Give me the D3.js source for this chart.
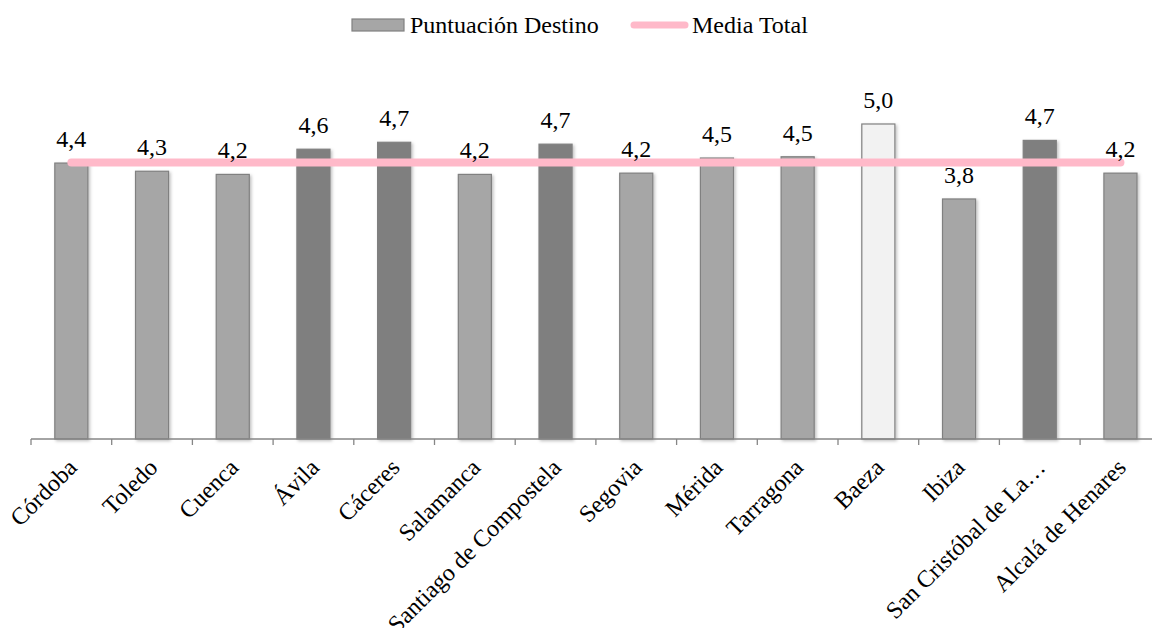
<!DOCTYPE html>
<html><head><meta charset="utf-8">
<script src="https://cdnjs.cloudflare.com/ajax/libs/d3/7.8.5/d3.min.js"></script>
<style>body{margin:0;background:#fff}svg{display:block}</style>
</head><body><svg id="c" width="1152" height="628"></svg>
<script>
const categories = ["Córdoba","Toledo","Cuenca","Ávila","Cáceres","Salamanca","Santiago de Compostela","Segovia","Mérida","Tarragona","Baeza","Ibiza","San Cristóbal de La…","Alcalá de Henares"];
const scores = [4.38,4.25,4.2,4.6,4.71,4.2,4.68,4.22,4.46,4.48,5.0,3.81,4.74,4.22];
const barTone = ["mid","mid","mid","dark","dark","mid","dark","mid","mid","mid","light","mid","dark","mid"];
const mediaTotal = 4.39;
const seriesNames = ["Puntuación Destino","Media Total"];

const svg = d3.select("#c");
const font = "'Liberation Serif','Times New Roman',serif";
const base = 439;
const x = d3.scaleBand().domain(categories).range([31, 31 + 80.7*14]).paddingInner(0.59).paddingOuter(0.295);
const y = d3.scaleLinear().domain([0, 5]).range([base, 124]);
const fills = {mid:"#a6a6a6", dark:"#7f7f7f", light:"#f2f2f2"};

const defs = svg.append("defs");
const f = defs.append("filter").attr("id","sh").attr("x","-20%").attr("y","-20%").attr("width","150%").attr("height","150%");
f.append("feDropShadow").attr("dx",1.5).attr("dy",1.5).attr("stdDeviation",1.5).attr("flood-color","#000").attr("flood-opacity",0.25);

// bars
svg.append("g").selectAll("rect").data(categories).join("rect")
  .attr("x", d => x(d))
  .attr("y", (d,i) => y(scores[i]))
  .attr("width", x.bandwidth())
  .attr("height", (d,i) => base - y(scores[i]))
  .attr("fill", (d,i) => fills[barTone[i]])
  .attr("stroke", "#808080").attr("stroke-width", 1.2)
  .attr("filter","url(#sh)");

// axis
const axisG = svg.append("g").attr("transform", `translate(0,${base})`);
axisG.append("line").attr("x1",31).attr("x2",1152).attr("stroke","#868686").attr("stroke-width",1.3);
const bounds = d3.range(categories.length+1).map(i => 31 + i*x.step());
axisG.selectAll("line.t").data(bounds).join("line").attr("class","t")
  .attr("x1", d=>d).attr("x2", d=>d).attr("y1",0).attr("y2",6)
  .attr("stroke","#868686").attr("stroke-width",1.3);

// category labels
svg.append("g").selectAll("text").data(categories).join("text")
  .attr("transform", d => `translate(${x(d)+x.bandwidth()/2+7},${base+30}) rotate(-45)`)
  .attr("text-anchor","end")
  .attr("font-family", font).attr("font-size", 24).attr("fill","#000")
  .text(d => d);

// media line
const cx = d => x(d) + x.bandwidth()/2;
svg.append("line")
  .attr("x1", cx(categories[0])).attr("x2", cx(categories[categories.length-1]))
  .attr("y1", y(mediaTotal)).attr("y2", y(mediaTotal))
  .attr("stroke","#ffb9c9").attr("stroke-width",8).attr("stroke-linecap","round");

// value labels
const fmt = v => d3.format(".1f")(v).replace(".", ",");
svg.append("g").selectAll("text").data(categories).join("text")
  .attr("x", d => cx(d)).attr("y", (d,i) => y(scores[i]) - 16)
  .attr("text-anchor","middle")
  .attr("font-family", font).attr("font-size", 24).attr("fill","#000")
  .text((d,i) => fmt(scores[i]));

// legend
const lg = svg.append("g");
lg.append("rect").attr("x",352).attr("y",19).attr("width",52).attr("height",12)
  .attr("fill","#a6a6a6").attr("stroke","#808080").attr("stroke-width",1.2);
lg.append("text").attr("x",410).attr("y",33).attr("font-family",font).attr("font-size",24).text(seriesNames[0]);
lg.append("line").attr("x1",634).attr("x2",685).attr("y1",25).attr("y2",25)
  .attr("stroke","#ffb9c9").attr("stroke-width",7).attr("stroke-linecap","round");
lg.append("text").attr("x",692).attr("y",33).attr("font-family",font).attr("font-size",24).text(seriesNames[1]);
</script></body></html>
